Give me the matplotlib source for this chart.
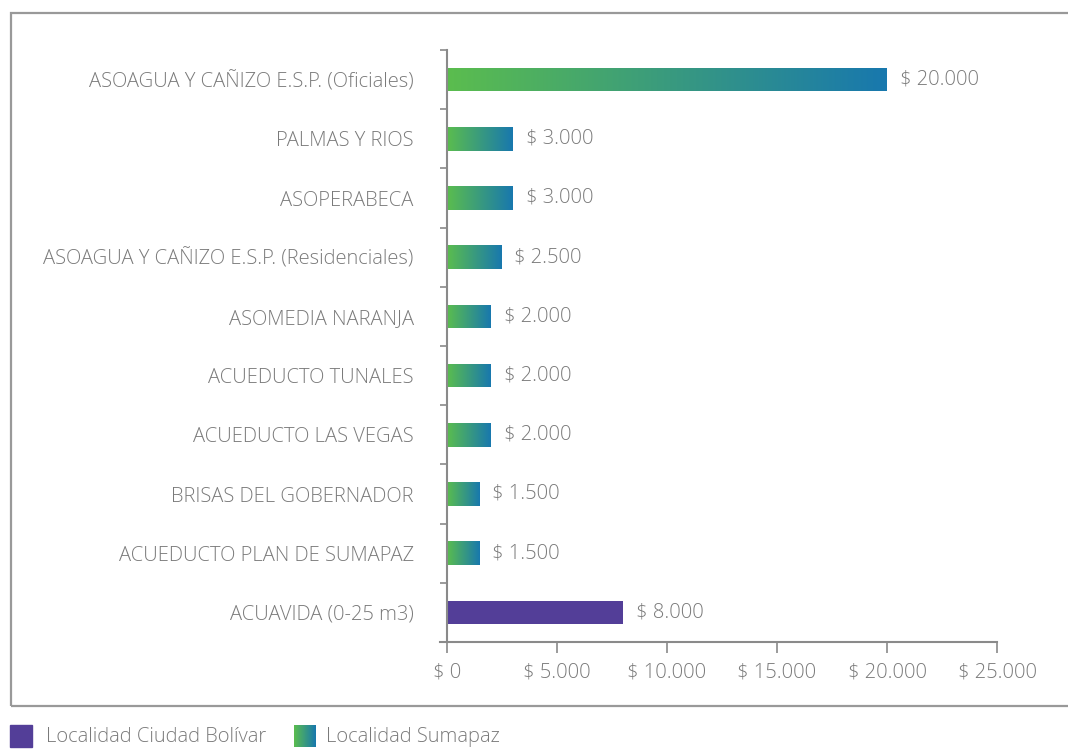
import numpy as np
import matplotlib
matplotlib.use("Agg")
import matplotlib.pyplot as plt
from matplotlib.colors import LinearSegmentedColormap
from matplotlib.patches import Rectangle

categories = [
    "ASOAGUA Y CAÑIZO E.S.P. (Oficiales)",
    "PALMAS Y RIOS",
    "ASOPERABECA",
    "ASOAGUA Y CAÑIZO E.S.P. (Residenciales)",
    "ASOMEDIA NARANJA",
    "ACUEDUCTO TUNALES",
    "ACUEDUCTO LAS VEGAS",
    "BRISAS DEL GOBERNADOR",
    "ACUEDUCTO PLAN DE SUMAPAZ",
    "ACUAVIDA (0-25 m3)",
]
values = [20000, 3000, 3000, 2500, 2000, 2000, 2000, 1500, 1500, 8000]
groups = ["Sumapaz"] * 9 + ["Bolivar"]
x_ticks = [0, 5000, 10000, 15000, 20000, 25000]
legend_labels = ["Localidad Ciudad Bolívar", "Localidad Sumapaz"]

GREEN = "#5BBD4E"
BLUE = "#1878AE"
PURPLE = "#533E98"
TEXT = "#7a7a7a"
AXIS = "#8a8a8a"
cmap = LinearSegmentedColormap.from_list("g", [GREEN, BLUE])

FS = 14.5
WEIGHT = 300
plt.rcParams["font.family"] = ["Open Sans", "DejaVu Sans"]

def fmt(v):
    return "$ " + f"{v:,}".replace(",", ".")

fig = plt.figure(figsize=(10.68, 7.49), dpi=100)
ax = fig.add_axes([447 / 1068, 1 - 642 / 749, 550 / 1068, 592 / 749])

n = len(categories)
ys = np.arange(n)
bar_h = 0.4
grad = np.linspace(0, 1, 256).reshape(1, -1)
for y, v, g in zip(ys, values, groups):
    if g == "Bolivar":
        ax.barh(y, v, height=bar_h, color=PURPLE, zorder=2)
    else:
        bar = ax.barh(y, v, height=bar_h, color="none", zorder=2)[0]
        im = ax.imshow(grad, cmap=cmap, aspect="auto",
                       extent=(0, v, y + bar_h / 2, y - bar_h / 2), zorder=2)
        im.set_clip_path(bar)
    ax.annotate(fmt(v), xy=(v, y), xytext=(9, 0), textcoords="offset points",
                va="center", ha="left", fontsize=FS, color=TEXT, fontweight=WEIGHT)

ax.set_xlim(0, 25000)
ax.set_ylim(n - 0.5, -0.5)
ax.set_xticks(x_ticks)
ax.set_xticklabels([fmt(t) for t in x_ticks])
ax.set_yticks(ys)
ax.set_yticklabels(categories)
ax.set_yticks(np.arange(n + 1) - 0.5, minor=True)
ax.tick_params(axis="y", which="major", length=0, pad=24, labelsize=FS, labelcolor=TEXT)
ax.tick_params(axis="y", which="minor", length=5, width=1.2, color=AXIS)
ax.tick_params(axis="x", length=8, width=1.2, color=AXIS, pad=7, labelsize=FS, labelcolor=TEXT)
for s in ["top", "right"]:
    ax.spines[s].set_visible(False)
for s in ["left", "bottom"]:
    ax.spines[s].set_color(AXIS)
    ax.spines[s].set_linewidth(1.5)
ax.spines["bottom"].set_bounds(-300, 25000)
ax.set_facecolor("none")
for lab in ax.get_xticklabels() + ax.get_yticklabels():
    lab.set_fontweight(WEIGHT)

# outer frame
fig.patches.append(Rectangle((10.5 / 1068, 1 - 706 / 749), 1.2, (706 - 13) / 749,
                             transform=fig.transFigure, fill=False,
                             edgecolor="#999999", linewidth=1.6, zorder=0))

# legend
sq = 22
lax = fig.add_axes([0, 0, 1, 1], facecolor="none")
lax.add_patch(Rectangle((10, 725), sq, sq, color=PURPLE))
lax.imshow(grad, cmap=cmap, aspect="auto", extent=(294, 294 + sq, 725 + sq, 725))
lax.set_xlim(0, 1068)
lax.set_ylim(749, 0)
lax.axis("off")
lax.text(46, 737, legend_labels[0], fontsize=FS, color=TEXT, va="center", fontweight=WEIGHT)
lax.text(326, 737, legend_labels[1], fontsize=FS, color=TEXT, va="center", fontweight=WEIGHT)

fig.savefig("out.png", dpi=100)
